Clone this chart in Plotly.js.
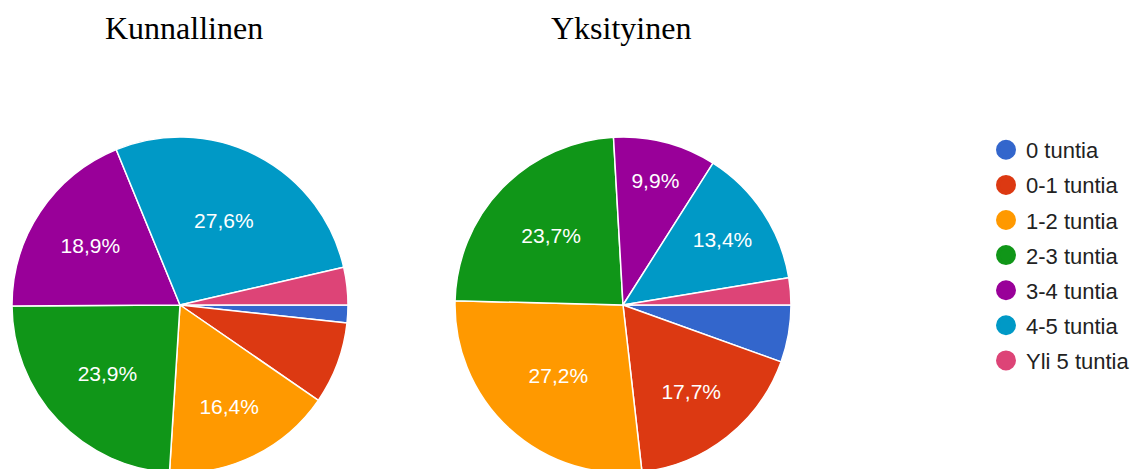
<!DOCTYPE html>
<html>
<head>
<meta charset="utf-8">
<script src="https://cdn.plot.ly/plotly-3.0.1.min.js"></script>
<style>
html,body{margin:0;padding:0;overflow:hidden;background:#fff;}
#chart{width:1135px;height:475px;}
</style>
</head>
<body>
<div id="chart"></div>
<script>
const categories = ["0 tuntia", "0-1 tuntia", "1-2 tuntia", "2-3 tuntia", "3-4 tuntia", "4-5 tuntia", "Yli 5 tuntia"];
const kunnallinen = [1.7, 7.9, 16.4, 23.9, 18.9, 27.6, 3.6];
const yksityinen = [5.5, 17.7, 27.2, 23.7, 9.9, 13.4, 2.6];
const titles = ["Kunnallinen", "Yksityinen"];
const colors = ["#3366cc", "#dc3912", "#ff9900", "#109618", "#990099", "#0099c6", "#dd4477"];

const W = 1135, H = 475;
function labelTemplates(vals) {
  return vals.map(v => v >= 9 ? "%{percent:.1%}" : "");
}
function pieTrace(vals, x0, x1) {
  return {
    type: "pie",
    labels: categories,
    values: vals,
    sort: false,
    direction: "clockwise",
    rotation: 90,
    marker: {colors: colors, line: {color: "#ffffff", width: 1.5}},
    texttemplate: labelTemplates(vals),
    textposition: "inside",
    insidetextorientation: "horizontal",
    insidetextfont: {family: "Liberation Sans, Arial, sans-serif", size: 21, color: "#ffffff"},
    hoverinfo: "label+percent",
    showlegend: false,
    domain: {x: [x0 / W, x1 / W], y: [1 - 473 / H, 1 - 137 / H]}
  };
}

const data = [
  pieTrace(kunnallinen, 12, 348),
  pieTrace(yksityinen, 455, 791)
];
categories.forEach((c, i) => {
  data.push({
    type: "scatter", mode: "markers", x: [null], y: [null],
    name: c, legendgroup: "g" + i,
    marker: {color: colors[i], size: 20, symbol: "circle", line: {color: colors[i], width: 4}},
    showlegend: true, hoverinfo: "skip"
  });
});

const layout = {
  width: W, height: H,
  margin: {l: 0, r: 0, t: 0, b: 0},
  paper_bgcolor: "#ffffff", plot_bgcolor: "#ffffff",
  separators: ", ",
  xaxis: {visible: false}, yaxis: {visible: false},
  showlegend: true,
  legend: {
    x: 986 / W, xanchor: "left", y: 1 - 129 / H, yanchor: "top",
    font: {family: "Liberation Sans, Arial, sans-serif", size: 22, color: "#222222"},
    tracegroupgap: 3.5, itemwidth: 30, bgcolor: "rgba(0,0,0,0)"
  },
  annotations: [
    {text: titles[0], x: 184 / W, y: 1 - 28 / H, xref: "paper", yref: "paper", xanchor: "center", yanchor: "middle", showarrow: false,
     font: {family: "Liberation Serif, Times New Roman, serif", size: 32, color: "#000000"}},
    {text: titles[1], x: 621 / W, y: 1 - 28 / H, xref: "paper", yref: "paper", xanchor: "center", yanchor: "middle", showarrow: false,
     font: {family: "Liberation Serif, Times New Roman, serif", size: 32, color: "#000000"}}
  ]
};

Plotly.newPlot("chart", data, layout, {displayModeBar: false, staticPlot: true});
</script>
</body>
</html>
